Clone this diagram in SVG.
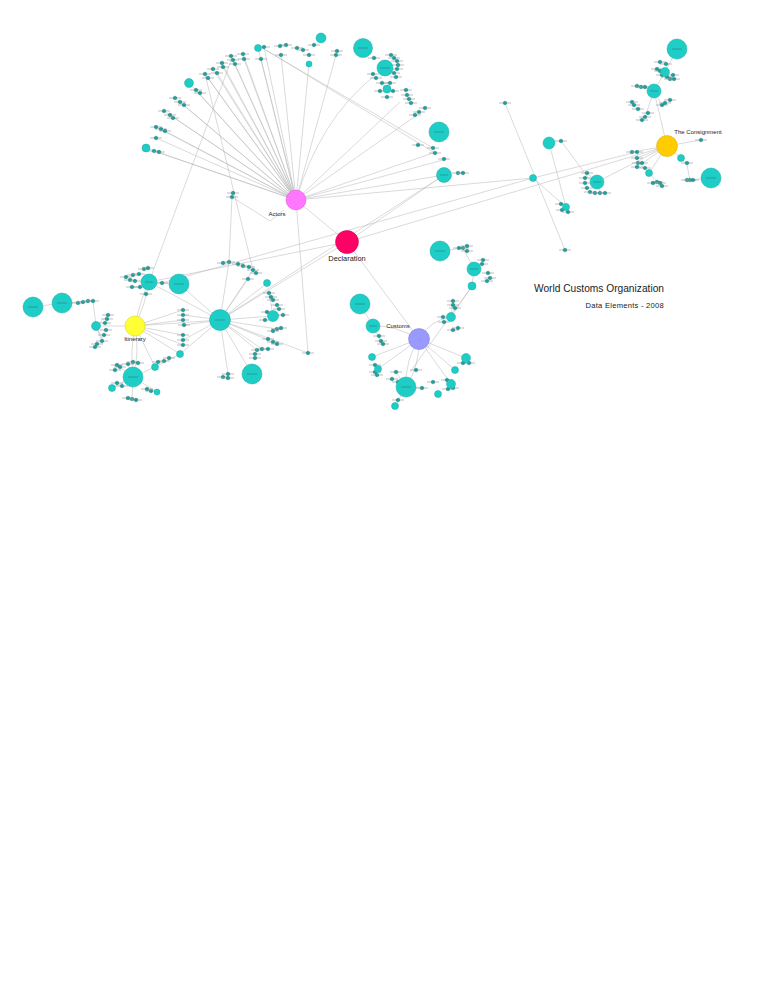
<svg xmlns="http://www.w3.org/2000/svg" width="768" height="994" viewBox="0 0 768 994">
<style>
.e{stroke:#b4b4b4;stroke-width:0.5;fill:none}
.b{fill:#1fcdc7;stroke:#17a8a3;stroke-width:0.5}
.bl{stroke:#2a6f6c;stroke-width:0.5}
.t{font-family:"Liberation Sans",Arial,sans-serif;fill:#222}
</style>
<defs>
<g id="sn"><line x1="-6" y1="0" x2="6" y2="0" stroke="#a0a0a0" stroke-width="0.7"/><circle r="1.8" fill="#1aa29d" stroke="#0f6f6c" stroke-width="0.4"/></g>
</defs>
<rect width="768" height="994" fill="#fff"/>
<g id="edges" class="e">
<path d="M296,200L146,148M296,200L154,151M296,200L156,138M296,200L156,127M296,200L161,129M296,200L164,111M296,200L170,115M296,200L175,98M296,200L180,102M296,200L189,83M296,200L196,90M296,200L205,74M296,200L208,78M296,200L213,69M296,200L217,73M296,200L222,63M296,200L223,67M296,200L231,56M296,200L235,64M296,200L243,54M296,200L244,59M296,200L258,48M296,200L261,59M296,200L264,47M296,200L281,55M296,200L309,64M296,200L336,55M296,200Q320,120 373,77M296,200L400,102M296,200L417,115M296,200L433,153M296,200L443,160M296,200L444,175M296,200L533,178M296,200L308,353"/>
<path d="M262,48L433,148M266,50L435,153M232,58L149,282M205,74L253,270M232,197L229,262M232,197L270,221L284,210"/>
<path d="M296,200L347,242M347,242L667,146M347,242L444,175M347,242L419,339M347,242L220,320M347,242L149,282M220,320L444,175M162,283L533,178"/>
<path d="M505,103L565,250M549,143L566,207M561,141L590,180M533,178L566,207M533,178L633,153M597,182L667,146M667,146L654,91M654,91L665,72M665,72L677,49M654,91L637,86M654,91L645,117M654,91L662,105M667,146L632,152M667,146L637,158M667,146L637,167M667,146L649,173M667,146L681,158M667,146L701,140M681,158L687,165L690,180L711,178M649,173L657,182M597,182L587,173M597,182L600,193"/>
<path d="M135,326Q140,300 149,282M135,326Q146,302 149,282M135,326Q130,350 133,377M135,326Q140,352 133,377M135,326L96,326M135,326L220,320M135,326L180,354M135,326L183,310M135,326L183,320M135,326L183,335M135,326L183,345M135,326L155,367M149,282L179,284M149,282L220,320M179,284L220,320M33,307L62,303M62,303L93,301M93,301L96,326M96,326L108,315M96,326L102,341M96,326L104,342M133,377L155,367L180,354L220,320M133,377L112,388M133,377L157,392M133,377L132,399M133,377L117,365M133,377L128,364"/>
<path d="M220,320L252,374M220,320L228,374M220,320L308,353M220,320L273,316M220,320L267,283M220,320L253,270M220,320L229,262M220,320L248,279M220,320L262,349M220,320L257,350M220,320L273,342M220,320L277,329M220,320L183,315M220,320L183,340M220,320L184,325M273,316L269,293M273,316L282,315"/>
<path d="M419,339Q395,325 373,326M419,339L372,357M419,339L378,369M419,339Q405,360 406,387M419,339Q420,365 406,387M419,339L466,358M419,339L451,384M419,339L455,370M419,339Q430,320 451,317M360,304L373,326M373,326L381,341M440,251L463,248M463,248L474,269M474,269L472,286M472,286L451,317M472,286L410,372M451,317L453,301M406,387L395,406M406,387L396,372M406,387L422,388M466,358L469,363"/>
</g>
<g id="smallnodes">
<use href="#sn" x="264" y="47"/><use href="#sn" x="286" y="45"/><use href="#sn" x="281" y="55"/><use href="#sn" x="243" y="54"/><use href="#sn" x="231" y="56"/><use href="#sn" x="233" y="60"/><use href="#sn" x="244" y="59"/><use href="#sn" x="235" y="64"/><use href="#sn" x="222" y="63"/><use href="#sn" x="213" y="69"/><use href="#sn" x="223" y="67"/><use href="#sn" x="205" y="74"/><use href="#sn" x="217" y="73"/><use href="#sn" x="208" y="78"/><use href="#sn" x="196" y="90"/><use href="#sn" x="200" y="93"/><use href="#sn" x="180" y="102"/><use href="#sn" x="184" y="105"/><use href="#sn" x="170" y="115"/><use href="#sn" x="173" y="118"/><use href="#sn" x="161" y="129"/><use href="#sn" x="165" y="131"/><use href="#sn" x="156" y="138"/><use href="#sn" x="154" y="151"/><use href="#sn" x="159" y="152"/><use href="#sn" x="175" y="98"/><use href="#sn" x="164" y="111"/><use href="#sn" x="156" y="127"/><use href="#sn" x="280" y="46"/><use href="#sn" x="261" y="59"/><use href="#sn" x="297" y="48"/>
<use href="#sn" x="303" y="50"/><use href="#sn" x="314" y="45"/><use href="#sn" x="309" y="55"/><use href="#sn" x="337" y="51"/><use href="#sn" x="336" y="55"/><use href="#sn" x="374" y="58"/><use href="#sn" x="391" y="55"/><use href="#sn" x="394" y="58"/><use href="#sn" x="397" y="61"/><use href="#sn" x="398" y="65"/><use href="#sn" x="397" y="69"/><use href="#sn" x="394" y="73"/><use href="#sn" x="396" y="77"/><use href="#sn" x="373" y="74"/><use href="#sn" x="376" y="78"/><use href="#sn" x="382" y="83"/><use href="#sn" x="390" y="83"/><use href="#sn" x="380" y="91"/><use href="#sn" x="393" y="91"/><use href="#sn" x="387" y="97"/><use href="#sn" x="406" y="90"/><use href="#sn" x="407" y="95"/><use href="#sn" x="409" y="99"/><use href="#sn" x="411" y="103"/><use href="#sn" x="425" y="108"/><use href="#sn" x="419" y="112"/><use href="#sn" x="415" y="115"/><use href="#sn" x="418" y="145"/><use href="#sn" x="433" y="148"/><use href="#sn" x="435" y="153"/><use href="#sn" x="444" y="159"/><use href="#sn" x="458" y="173"/><use href="#sn" x="463" y="173"/><use href="#sn" x="232" y="197"/><use href="#sn" x="233" y="193"/>
<use href="#sn" x="505" y="103"/><use href="#sn" x="561" y="141"/><use href="#sn" x="657" y="69"/><use href="#sn" x="660" y="71"/><use href="#sn" x="662" y="75"/><use href="#sn" x="667" y="77"/><use href="#sn" x="670" y="79"/><use href="#sn" x="673" y="75"/><use href="#sn" x="674" y="79"/><use href="#sn" x="660" y="62"/><use href="#sn" x="666" y="64"/><use href="#sn" x="637" y="86"/><use href="#sn" x="641" y="87"/><use href="#sn" x="645" y="87"/><use href="#sn" x="632" y="102"/><use href="#sn" x="634" y="105"/><use href="#sn" x="638" y="109"/><use href="#sn" x="645" y="117"/><use href="#sn" x="642" y="120"/><use href="#sn" x="648" y="113"/><use href="#sn" x="662" y="105"/><use href="#sn" x="665" y="103"/><use href="#sn" x="670" y="100"/><use href="#sn" x="701" y="140"/><use href="#sn" x="632" y="152"/><use href="#sn" x="637" y="152"/><use href="#sn" x="637" y="158"/><use href="#sn" x="637" y="167"/><use href="#sn" x="638" y="163"/><use href="#sn" x="642" y="163"/><use href="#sn" x="645" y="168"/><use href="#sn" x="657" y="182"/><use href="#sn" x="660" y="183"/><use href="#sn" x="653" y="183"/><use href="#sn" x="662" y="186"/><use href="#sn" x="687" y="163"/><use href="#sn" x="687" y="180"/><use href="#sn" x="690" y="180"/><use href="#sn" x="693" y="180"/><use href="#sn" x="587" y="173"/><use href="#sn" x="585" y="178"/><use href="#sn" x="585" y="183"/><use href="#sn" x="587" y="188"/><use href="#sn" x="590" y="192"/><use href="#sn" x="595" y="193"/><use href="#sn" x="600" y="193"/><use href="#sn" x="605" y="193"/><use href="#sn" x="561" y="204"/><use href="#sn" x="562" y="210"/><use href="#sn" x="568" y="212"/><use href="#sn" x="565" y="250"/>
<use href="#sn" x="78" y="303"/><use href="#sn" x="83" y="302"/><use href="#sn" x="88" y="301"/><use href="#sn" x="93" y="301"/><use href="#sn" x="108" y="315"/><use href="#sn" x="107" y="319"/><use href="#sn" x="105" y="323"/><use href="#sn" x="106" y="330"/><use href="#sn" x="104" y="335"/><use href="#sn" x="102" y="341"/><use href="#sn" x="97" y="344"/><use href="#sn" x="95" y="347"/><use href="#sn" x="169" y="358"/><use href="#sn" x="164" y="361"/><use href="#sn" x="158" y="362"/><use href="#sn" x="151" y="391"/><use href="#sn" x="147" y="389"/><use href="#sn" x="132" y="399"/><use href="#sn" x="128" y="398"/><use href="#sn" x="136" y="400"/><use href="#sn" x="117" y="365"/><use href="#sn" x="115" y="370"/><use href="#sn" x="120" y="367"/><use href="#sn" x="128" y="364"/><use href="#sn" x="133" y="362"/><use href="#sn" x="138" y="363"/><use href="#sn" x="117" y="383"/><use href="#sn" x="122" y="386"/><use href="#sn" x="126" y="277"/><use href="#sn" x="133" y="275"/><use href="#sn" x="139" y="274"/><use href="#sn" x="144" y="269"/><use href="#sn" x="148" y="268"/><use href="#sn" x="130" y="280"/><use href="#sn" x="135" y="281"/><use href="#sn" x="132" y="287"/><use href="#sn" x="140" y="287"/><use href="#sn" x="146" y="294"/><use href="#sn" x="162" y="283"/><use href="#sn" x="183" y="310"/><use href="#sn" x="183" y="315"/><use href="#sn" x="183" y="320"/><use href="#sn" x="184" y="325"/><use href="#sn" x="183" y="335"/><use href="#sn" x="183" y="340"/><use href="#sn" x="183" y="345"/>
<use href="#sn" x="253" y="270"/><use href="#sn" x="256" y="273"/><use href="#sn" x="248" y="279"/><use href="#sn" x="229" y="262"/><use href="#sn" x="223" y="263"/><use href="#sn" x="238" y="264"/><use href="#sn" x="243" y="266"/><use href="#sn" x="249" y="267"/><use href="#sn" x="269" y="293"/><use href="#sn" x="271" y="297"/><use href="#sn" x="273" y="300"/><use href="#sn" x="277" y="305"/><use href="#sn" x="279" y="309"/><use href="#sn" x="283" y="315"/><use href="#sn" x="265" y="320"/><use href="#sn" x="267" y="312"/><use href="#sn" x="277" y="329"/><use href="#sn" x="281" y="328"/><use href="#sn" x="273" y="331"/><use href="#sn" x="268" y="339"/><use href="#sn" x="273" y="342"/><use href="#sn" x="277" y="344"/><use href="#sn" x="257" y="350"/><use href="#sn" x="255" y="354"/><use href="#sn" x="255" y="358"/><use href="#sn" x="262" y="349"/><use href="#sn" x="268" y="349"/><use href="#sn" x="308" y="353"/><use href="#sn" x="228" y="374"/><use href="#sn" x="223" y="377"/><use href="#sn" x="228" y="378"/>
<use href="#sn" x="463" y="248"/><use href="#sn" x="467" y="246"/><use href="#sn" x="459" y="248"/><use href="#sn" x="467" y="251"/><use href="#sn" x="483" y="260"/><use href="#sn" x="482" y="264"/><use href="#sn" x="488" y="273"/><use href="#sn" x="490" y="278"/><use href="#sn" x="487" y="281"/><use href="#sn" x="379" y="336"/><use href="#sn" x="381" y="341"/><use href="#sn" x="383" y="344"/><use href="#sn" x="453" y="301"/><use href="#sn" x="453" y="305"/><use href="#sn" x="455" y="308"/><use href="#sn" x="443" y="317"/><use href="#sn" x="444" y="322"/><use href="#sn" x="453" y="330"/><use href="#sn" x="458" y="328"/><use href="#sn" x="469" y="363"/><use href="#sn" x="463" y="363"/><use href="#sn" x="375" y="365"/><use href="#sn" x="375" y="372"/><use href="#sn" x="377" y="375"/><use href="#sn" x="447" y="380"/><use href="#sn" x="453" y="388"/><use href="#sn" x="448" y="389"/><use href="#sn" x="396" y="372"/><use href="#sn" x="392" y="379"/><use href="#sn" x="398" y="382"/><use href="#sn" x="416" y="370"/><use href="#sn" x="422" y="388"/><use href="#sn" x="398" y="400"/><use href="#sn" x="433" y="382"/>
</g>
<g id="bignodes" class="b">
<circle id="b1" cx="321" cy="38" r="5"/><circle id="b2" cx="363" cy="48" r="9.5"/><circle id="b3" cx="385" cy="68" r="8"/><circle id="b4" cx="387" cy="89" r="4"/><circle id="b5" cx="439" cy="132" r="10"/><circle id="b6" cx="444" cy="175" r="7.5"/><circle id="b7" cx="189" cy="83" r="4.5"/><circle id="b8" cx="146" cy="148" r="4"/><circle id="b9" cx="258" cy="48" r="3.5"/><circle id="b10" cx="309" cy="64" r="3"/>
<circle id="b11" cx="677" cy="49" r="10"/><circle id="b12" cx="665" cy="72" r="4.5"/><circle id="b13" cx="654" cy="91" r="7"/><circle id="b14" cx="711" cy="178" r="10"/><circle id="b15" cx="597" cy="182" r="7"/><circle id="b16" cx="549" cy="143" r="6"/><circle id="b17" cx="533" cy="178" r="3.5"/><circle id="b18" cx="566" cy="207" r="3.5"/><circle id="b19" cx="681" cy="158" r="3.5"/><circle id="b20" cx="649" cy="173" r="3.5"/>
<circle id="b21" cx="33" cy="307" r="10"/><circle id="b22" cx="62" cy="303" r="10"/><circle id="b23" cx="149" cy="282" r="8"/><circle id="b24" cx="179" cy="284" r="10"/><circle id="b25" cx="96" cy="326" r="4.5"/><circle id="b26" cx="133" cy="377" r="10"/><circle id="b27" cx="155" cy="367" r="3.5"/><circle id="b28" cx="180" cy="354" r="3.5"/><circle id="b29" cx="112" cy="388" r="3.5"/><circle id="b30" cx="157" cy="392" r="3"/>
<circle id="b31" cx="220" cy="320" r="10.5"/><circle id="b32" cx="252" cy="374" r="10"/><circle id="b33" cx="267" cy="283" r="3.5"/><circle id="b34" cx="273" cy="316" r="5.5"/>
<circle id="b35" cx="440" cy="251" r="10"/><circle id="b36" cx="474" cy="269" r="7"/><circle id="b37" cx="472" cy="286" r="4"/><circle id="b38" cx="360" cy="304" r="10"/><circle id="b39" cx="373" cy="326" r="7"/><circle id="b40" cx="451" cy="317" r="4.5"/><circle id="b41" cx="372" cy="357" r="3.5"/><circle id="b42" cx="378" cy="369" r="3.5"/><circle id="b43" cx="466" cy="358" r="4.5"/><circle id="b44" cx="455" cy="370" r="3.5"/><circle id="b45" cx="451" cy="384" r="4.5"/><circle id="b46" cx="438" cy="394" r="3.5"/><circle id="b47" cx="406" cy="387" r="10"/><circle id="b48" cx="395" cy="406" r="3.5"/>
</g>
<g id="biglabels" class="bl">
<path d="M358,48h10M380,68h10M434,132h10M440,175h8M672,49h10M650,91h8M706,178h10M593,182h8M28,307h10M57,303h10M145,282h8M174,284h10M128,377h10M215,320h10M247,374h10M435,251h10M470,269h8M355,304h10M369,326h8M401,387h10"/>
</g>
<g id="actors"><circle cx="296" cy="200" r="10" fill="#ff77ff" stroke="#d94fd9" stroke-width="0.5"/><text class="t" x="277" y="216" font-size="6" text-anchor="middle">Actors</text></g>
<g id="declaration"><circle cx="347" cy="242" r="11.5" fill="#ff0066" stroke="#c80050" stroke-width="0.5"/><text class="t" x="347" y="261" font-size="7.4" text-anchor="middle">Declaration</text></g>
<g id="itinerary"><circle cx="135" cy="326" r="10" fill="#ffff33" stroke="#d4d400" stroke-width="0.5"/><text class="t" x="135" y="341" font-size="6" text-anchor="middle">Itinerary</text></g>
<g id="customs"><circle cx="419" cy="339" r="10.5" fill="#9999ff" stroke="#7777dd" stroke-width="0.5"/><text class="t" x="398" y="328" font-size="6" text-anchor="middle">Customs</text></g>
<g id="consignment"><circle cx="667" cy="146" r="10.5" fill="#ffcc00" stroke="#d4a800" stroke-width="0.5"/><text class="t" x="698" y="134" font-size="6" text-anchor="middle">The Consignment</text></g>
<g id="title">
<text class="t" x="664" y="292" font-size="10.2" text-anchor="end">World Customs Organization</text>
<text class="t" x="664" y="308" font-size="7.6" letter-spacing="0.25" text-anchor="end" fill="#444">Data Elements - 2008</text>
</g>
</svg>
